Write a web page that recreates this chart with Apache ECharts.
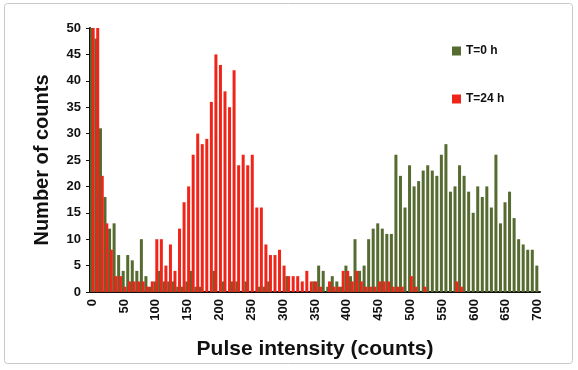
<!DOCTYPE html>
<html><head><meta charset="utf-8">
<script src="https://cdn.jsdelivr.net/npm/echarts@6/dist/echarts.min.js"></script>
<style>html,body{margin:0;padding:0;background:#fff}#c{width:578px;height:370px}</style>
</head><body><div id="c"></div>
<script>
// Tick labels on the x axis (one label every 7 bins)
const tickLabels = [0,50,100,150,200,250,300,350,400,450,500,550,600,650,700];
const binsPerTick = 7;
// Series values, one per bin (99 bins from 0 to 700)
const t0 = [50,48,31,18,12,13,7,4,7,6,4,10,3,1,2,4,2,2,2,1,1,2,4,1,1,0,0,4,0,2,0,2,2,0,2,0,0,1,1,2,0,0,0,3,0,0,0,0,0,2,5,4,1,3,2,1,5,3,10,4,5,10,12,13,12,11,11,26,22,16,24,20,21,23,24,23,22,26,28,19,20,24,22,19,15,20,18,20,16,26,13,17,19,14,10,9,8,8,5];
const t24 = [50,50,22,13,8,3,3,1,2,2,2,2,1,2,10,10,5,9,4,12,17,20,26,30,28,29,36,45,43,38,35,42,24,26,24,26,16,16,9,7,7,8,5,3,3,3,2,4,2,2,1,0,2,1,1,4,4,2,4,2,1,1,1,2,2,2,1,1,1,0,3,1,0,1,0,0,0,0,0,0,2,1,0,0,0,0,0,0,0,0,0,0,0,0,0,0,0,0,0];
const yTicks = {min:0, max:50, interval:5};

const categories = t0.map((_, i) => String(i));
const font = 'Liberation Sans';
const chart = echarts.init(document.getElementById('c'), null, {renderer:'canvas'});
chart.setOption({
  animation:false,
  backgroundColor:'#fff',
  graphic:[{type:'rect', shape:{x:4.5,y:3.5,width:568,height:360,r:3}, style:{fill:'none', stroke:'#c8c8c8', lineWidth:1}, z:-1}],
  grid:{left:90, right:38, top:28, bottom:78},
  legend:{orient:'vertical', left:447, top:40, itemWidth:9, itemHeight:9, itemGap:36,
    icon:'rect', textStyle:{fontFamily:font, fontWeight:'bold', fontSize:12, color:'#111'},
    data:['T=0 h','T=24 h']},
  xAxis:{type:'category', data:categories, boundaryGap:true,
    name:'Pulse intensity (counts)', nameLocation:'middle', nameGap:47,
    nameTextStyle:{fontFamily:font, fontWeight:'bold', fontSize:21, color:'#111'},
    axisLine:{lineStyle:{color:'#111', width:2}},
    axisTick:{interval:0, length:4, lineStyle:{color:'#111', width:1}},
    axisLabel:{interval:(i)=> i % binsPerTick === 0, rotate:90, margin:7,
      formatter:(v, i)=> String(tickLabels[i / binsPerTick]),
      fontFamily:font, fontWeight:'bold', fontSize:13, color:'#111'},
    splitLine:{show:false}},
  yAxis:{type:'value', min:yTicks.min, max:yTicks.max, interval:yTicks.interval,
    name:'Number of counts', nameLocation:'middle', nameGap:38,
    nameTextStyle:{fontFamily:font, fontWeight:'bold', fontSize:20, color:'#111'},
    axisLine:{show:true, lineStyle:{color:'#111', width:2}},
    axisTick:{show:true, length:4, lineStyle:{color:'#111'}},
    axisLabel:{fontFamily:font, fontWeight:'bold', fontSize:13, color:'#111', margin:9},
    splitLine:{show:false}},
  series:[
    {name:'T=0 h', type:'bar', data:t0, barWidth:3, barGap:'-40%', itemStyle:{color:'#556b2f'}},
    {name:'T=24 h', type:'bar', data:t24, barWidth:3, barGap:'-40%', itemStyle:{color:'#f0251a'}}
  ]
});
</script></body></html>
